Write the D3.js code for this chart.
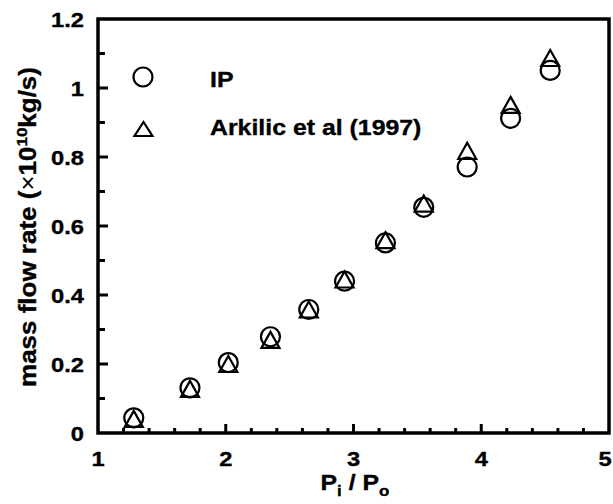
<!DOCTYPE html>
<html>
<head>
<meta charset="utf-8">
<script src="https://cdn.jsdelivr.net/npm/d3@7"></script>
<style>
  html, body { margin: 0; padding: 0; background: #fff; }
  svg { display: block; font-family: "Liberation Sans", Arial, sans-serif; font-weight: bold; }
  svg text { stroke: #000; stroke-width: 0.35px; }
</style>
</head>
<body>
<svg id="chart" width="613" height="504"></svg>
<script>
// Pressure ratio Pi/Po for each measured run
const pressureRatio = [1.28, 1.72, 2.02, 2.35, 2.65, 2.93, 3.25, 3.55, 3.89, 4.23, 4.54];
// Mass flow rate (x1e-10 kg/s), IP simulation
const ipFlow = [0.044, 0.131, 0.204, 0.279, 0.358, 0.440, 0.551, 0.654, 0.771, 0.912, 1.051];
// Mass flow rate (x1e-10 kg/s), Arkilic et al (1997)
const arkilicFlow = [0.041, 0.128, 0.200, 0.270, 0.358, 0.445, 0.559, 0.665, 0.818, 0.951, 1.087];

const xTicks = [1, 2, 3, 4, 5];
const yTicks = [0, 0.2, 0.4, 0.6, 0.8, 1, 1.2];
const seriesNames = ["IP", "Arkilic et al (1997)"];

const svg = d3.select("#chart");
const W = 613;
const plotLeft = 98, plotRight = 609, plotTop = 19, plotBottom = 433;
const wide = 1.13; // horizontal stretch of the lettering

const x = d3.scaleLinear().domain([1, 5]).range([plotLeft, plotRight]);
const y = d3.scaleLinear().domain([0, 1.2]).range([plotBottom, plotTop]);

// Minor ticks (inward)
const xMinor = d3.range(1, 5.001, 0.2).filter(v => Math.abs(v - Math.round(v)) > 1e-6);
const yMinor = d3.range(0.1, 1.2, 0.2);

const axisG = svg.append("g");

axisG.selectAll("line.xminor").data(xMinor).join("line")
  .attr("x1", d => x(d)).attr("x2", d => x(d))
  .attr("y1", plotBottom).attr("y2", plotBottom - 5)
  .attr("stroke", "#000").attr("stroke-width", 3);

axisG.selectAll("line.xmajor").data(xTicks.slice(1, -1)).join("line")
  .attr("x1", d => x(d)).attr("x2", d => x(d))
  .attr("y1", plotBottom).attr("y2", plotBottom - 9)
  .attr("stroke", "#000").attr("stroke-width", 3);

axisG.selectAll("line.yminor").data(yMinor).join("line")
  .attr("x1", plotLeft).attr("x2", plotLeft + 7)
  .attr("y1", d => y(d)).attr("y2", d => y(d))
  .attr("stroke", "#000").attr("stroke-width", 3);

axisG.selectAll("line.ymajor").data(yTicks.slice(1, -1)).join("line")
  .attr("x1", plotLeft).attr("x2", plotLeft + 10)
  .attr("y1", d => y(d)).attr("y2", d => y(d))
  .attr("stroke", "#000").attr("stroke-width", 3);

// Plot frame
axisG.append("rect")
  .attr("x", plotLeft).attr("y", plotTop)
  .attr("width", plotRight - plotLeft).attr("height", plotBottom - plotTop)
  .attr("fill", "none").attr("stroke", "#000").attr("stroke-width", 3.5);

// Tick labels (the last one is kept inside the page edge)
axisG.selectAll("text.xt").data(xTicks).join("text")
  .attr("transform", d => `translate(${Math.min(x(d), W - 8)},466) scale(${wide},1)`)
  .attr("text-anchor", "middle")
  .attr("font-size", 21)
  .text(d => d3.format("d")(d));

axisG.selectAll("text.yt").data(yTicks).join("text")
  .attr("transform", d => `translate(84,${y(d) + 7.5}) scale(${wide},1)`)
  .attr("text-anchor", "end")
  .attr("font-size", 21)
  .text(d => d === 0 || d === 1 ? String(d) : d3.format(".1f")(d));

// X axis title: Pi / Po
const xt = svg.append("text")
  .attr("transform", `translate(355,490) scale(${wide},1)`)
  .attr("text-anchor", "middle")
  .attr("font-size", 22);
xt.append("tspan").text("P");
xt.append("tspan").attr("font-size", 15).attr("dy", 6).text("i");
xt.append("tspan").attr("dy", -6).text(" / P");
xt.append("tspan").attr("font-size", 15).attr("dy", 6).text("o");

// Y axis title
const yt = svg.append("text")
  .attr("transform", `translate(36,227) rotate(-90) scale(${wide},1)`)
  .attr("text-anchor", "middle")
  .attr("font-size", 23);
yt.append("tspan").text("mass flow rate (");
yt.append("tspan").attr("font-weight", "normal").style("stroke-width", "0px").text("\u00D7");
yt.append("tspan").text("10");
yt.append("tspan").attr("font-size", 15).attr("dy", -9).text("10");
yt.append("tspan").attr("dy", 9).text("kg/s)");

// Marker shapes
const triPath = (w, h) => `M0,${-h / 2}L${w / 2},${h / 2}L${-w / 2},${h / 2}Z`;

const points = pressureRatio.map((p, i) => ({ p, ip: ipFlow[i], ark: arkilicFlow[i] }));

svg.append("g").selectAll("circle").data(points).join("circle")
  .attr("cx", d => x(d.p)).attr("cy", d => y(d.ip)).attr("r", 9.5)
  .attr("fill", "none").attr("stroke", "#000").attr("stroke-width", 2.2);

svg.append("g").selectAll("path").data(points).join("path")
  .attr("transform", d => `translate(${x(d.p)},${y(d.ark)})`)
  .attr("d", triPath(18, 16))
  .attr("fill", "none").attr("stroke", "#000").attr("stroke-width", 2.2)
  .attr("stroke-linejoin", "miter");

// Legend
const lg = svg.append("g");
lg.append("circle").attr("cx", 143).attr("cy", 77).attr("r", 9.5)
  .attr("fill", "none").attr("stroke", "#000").attr("stroke-width", 2.2);
lg.append("path").attr("transform", "translate(143.5,129)").attr("d", triPath(18, 14))
  .attr("fill", "none").attr("stroke", "#000").attr("stroke-width", 2.2);
lg.selectAll("text").data(seriesNames).join("text")
  .attr("transform", (d, i) => `translate(210,${87 + i * 48}) scale(${wide},1)`)
  .attr("font-size", 22)
  .text(d => d);
</script>
</body>
</html>
